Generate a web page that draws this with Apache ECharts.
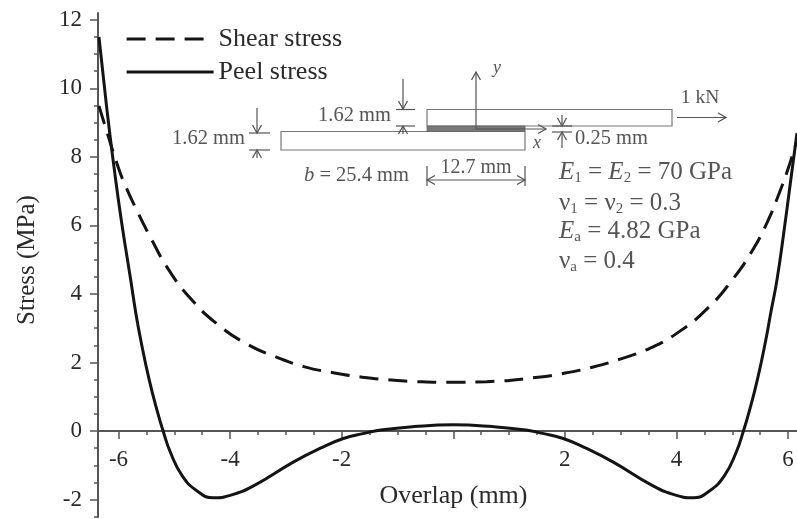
<!DOCTYPE html>
<html>
<head>
<meta charset="utf-8">
<style>html,body{margin:0;padding:0;background:#fff}#c{width:797px;height:519px}</style>
<script src="https://cdn.jsdelivr.net/npm/echarts@6/dist/echarts.min.js"></script>
</head>
<body>
<div id="c"></div>
<script>
const xMajorTicks = [-6,-4,-2,0,2,4,6];
const xLabelTicks = [-6,-4,-2,2,4,6];
const xMinorTicks = [-6,-5.5,-5,-4.5,-4,-3.5,-3,-2.5,-2,-1.5,-1,-0.5,0,0.5,1,1.5,2,2.5,3,3.5,4,4.5,5,5.5,6];
const yMajorTicks = [-2,0,2,4,6,8,10,12];
const yMinorTicks = [-2.5,-2,-1.5,-1,-0.5,0,0.5,1,1.5,2,2.5,3,3.5,4,4.5,5,5.5,6,6.5,7,7.5,8,8.5,9,9.5,10,10.5,11,11.5,12];
const shearX = [-6.35,-6.23,-6.02,-5.9,-5.66,-5.41,-5.11,-4.72,-4.23,-3.69,-3.19,-2.68,-2.15,-1.63,-1.13,-0.63,-0.09,0.6,1.47,1.97,2.51,2.99,3.53,4.05,4.57,5.0,5.35,5.62,5.82,6.03,6.16];
const shearY = [9.49,8.85,7.77,7.25,6.4,5.6,4.73,3.89,3.12,2.53,2.17,1.88,1.7,1.57,1.49,1.44,1.42,1.44,1.56,1.68,1.87,2.1,2.42,2.9,3.6,4.41,5.24,6.07,6.85,7.8,8.5];
const peelX = [-6.35,-6.2,-6.08,-5.95,-5.78,-5.69,-5.6,-5.45,-5.3,-5.2,-5.07,-4.86,-4.59,-4.3,-4.0,-3.58,-2.86,-2.38,-1.97,-1.6,-1.3,-0.7,0,0.7,1.3,1.6,1.97,2.38,2.86,3.58,4.0,4.3,4.59,4.86,5.07,5.2,5.3,5.45,5.6,5.69,5.8,5.92,6.03,6.16];
const peelY = [11.5,9.28,7.7,6.16,4.4,3.45,2.65,1.5,0.55,0,-0.62,-1.3,-1.75,-1.95,-1.88,-1.6,-0.9,-0.5,-0.22,-0.07,0.03,0.13,0.18,0.13,0.03,-0.07,-0.22,-0.5,-0.9,-1.6,-1.88,-1.95,-1.75,-1.3,-0.62,0,0.55,1.5,2.65,3.45,4.4,5.75,7.1,8.7];

const serif = '"Liberation Serif"';
const ink = '#2a2a2a', grey = '#555', axisCol = '#555';

function seg(x1,y1,x2,y2,w,c){return {type:'line',silent:true,shape:{x1,y1,x2,y2},style:{stroke:c||grey,lineWidth:w||1.2}};}
function head(x,y,dx,dy){
  const s=8,t=4.5,nx=-dy,ny=dx;
  return {type:'polyline',silent:true,shape:{points:[[x-dx*s+nx*t,y-dy*s+ny*t],[x,y],[x-dx*s-nx*t,y-dy*s-ny*t]]},style:{stroke:grey,lineWidth:1.3,fill:null}};
}
function box(x,y,w,h,fill){return {type:'rect',silent:true,shape:{x,y,width:w,height:h},style:{stroke:'#777',lineWidth:1.2,fill:fill||'#fff'}};}
const richBase = {
  n:{fontFamily:serif,fontSize:25,fill:grey},
  i:{fontFamily:serif,fontSize:25,fontStyle:'italic',fill:grey},
  s:{fontFamily:serif,fontSize:15,fill:grey,verticalAlign:'bottom',padding:[12,0,0,0]},
  n20:{fontFamily:serif,fontSize:20.5,fill:grey},
  i20:{fontFamily:serif,fontSize:20.5,fontStyle:'italic',fill:grey}
};
function label(x,y,t,size,align){return {type:'text',silent:true,x,y,style:{text:t,fontFamily:serif,fontSize:size||20.5,fill:grey,align:align||'left',verticalAlign:'middle'}};}
function italic(x,y,t,size){return {type:'text',silent:true,x,y,style:{text:t,fontFamily:serif,fontSize:size||18,fontStyle:'italic',fill:grey,align:'center',verticalAlign:'middle'}};}
function rich(x,y,t){return {type:'text',silent:true,x,y,style:{text:t,rich:richBase,verticalAlign:'middle',align:'left'}};}

const graphics = [
  box(427,109.5,245,16.5),
  box(281,131.5,244,18.5),
  {type:'rect',silent:true,shape:{x:427,y:126,width:98,height:5.5},style:{fill:'#777',stroke:'#666',lineWidth:0.8}},
  seg(476,129,476,73), head(476,72,0,-1), italic(497,68,'y'),
  seg(476,129,545,129), head(546,129,1,0), italic(537,143,'x'),
  seg(677,117.5,725,117.5), head(726,117.5,1,0), label(700,98,'1 kN',19.5,'center'),
  seg(403,79,403,109), head(403,109,0,1), seg(396,109.5,415,109.5), seg(396,126,415,126),
  seg(403,126,403,134), head(403,126,0,-1), label(318,115.5,'1.62 mm'),
  seg(257,108,257,133), head(257,133,0,1), seg(249,133,270,133), seg(249,150,270,150),
  seg(257,150,257,158), head(257,150,0,-1), label(172,139,'1.62 mm'),
  seg(562,115,562,126), head(562,126,0,1), seg(552,126,572,126), seg(552,132,572,132),
  seg(562,132,562,148), head(562,132,0,-1), label(575,139,'0.25 mm'),
  rich(304,176,'{i20|b}{n20| = 25.4 mm}'),
  seg(427,166,427,186), seg(525,166,525,186), seg(427,180,525,180),
  head(427,180,-1,0), head(525,180,1,0), label(476,168,'12.7 mm',20,'center'),
  rich(559,172,'{i|E}{s|1}{n| = }{i|E}{s|2}{n| = 70 GPa}'),
  rich(559,203,'{n|ν}{s|1}{n| = ν}{s|2}{n| = 0.3}'),
  rich(559,231,'{i|E}{s|a}{n| = 4.82 GPa}'),
  rich(559,261,'{n|ν}{s|a}{n| = 0.4}')
];

const xMin=-6.367,xMax=6.16,yMin=-2.51,yMax=12.2;
const axisStroke={color:axisCol,width:2};
const option={
  animation:false,
  backgroundColor:'#fff',
  grid:{left:98,right:0,top:13,bottom:2,outerBoundsMode:'none'},
  legend:{
    orient:'vertical',left:120,top:21,itemWidth:87,itemHeight:14,itemGap:7,
    itemStyle:{opacity:0},
    lineStyle:{width:3.2},
    textStyle:{fontFamily:serif,fontSize:26,color:ink},
    data:['Shear stress','Peel stress']
  },
  xAxis:[
    {type:'value',min:xMin,max:xMax,splitLine:{show:false},
     axisLine:{show:true,onZero:true,lineStyle:axisStroke},
     axisTick:{show:true,length:4,customValues:xMinorTicks,lineStyle:{color:axisCol,width:1.5}},
     axisLabel:{show:false}},
    {type:'value',min:xMin,max:xMax,position:'bottom',offset:-86,splitLine:{show:false},
     axisLine:{show:false,onZero:false},
     axisTick:{show:true,length:8,customValues:xMajorTicks,lineStyle:{color:axisCol,width:1.5}},
     axisLabel:{show:true,customValues:xLabelTicks,margin:17,fontFamily:serif,fontSize:23,color:ink,hideOverlap:false,showMinLabel:true,showMaxLabel:true},
     name:'Overlap (mm)',nameLocation:'middle',nameGap:52,
     nameTextStyle:{fontFamily:serif,fontSize:26,color:ink,padding:[0,0,0,12]}}
  ],
  yAxis:[
    {type:'value',min:yMin,max:yMax,position:'left',splitLine:{show:false},
     axisLine:{show:true,onZero:false,lineStyle:axisStroke},
     axisTick:{show:true,length:4,customValues:yMinorTicks,lineStyle:{color:axisCol,width:1.5}},
     axisLabel:{show:false}},
    {type:'value',min:yMin,max:yMax,position:'left',splitLine:{show:false},
     axisLine:{show:false,onZero:false},
     axisTick:{show:true,length:8,customValues:yMajorTicks,lineStyle:{color:axisCol,width:1.5}},
     axisLabel:{show:true,customValues:yMajorTicks,margin:16,fontFamily:serif,fontSize:23,color:ink},
     name:'Stress (MPa)',nameLocation:'middle',nameGap:58,
     nameTextStyle:{fontFamily:serif,fontSize:25,color:ink,padding:[0,0,0,10]}}
  ],
  series:[
    {name:'Shear stress',type:'line',xAxisIndex:0,yAxisIndex:0,showSymbol:false,symbol:'none',smooth:0.5,
     data:shearX.map((x,i)=>[x,shearY[i]]),lineStyle:{color:'#141414',width:3,type:[19,10]},itemStyle:{color:'#141414'}},
    {name:'Peel stress',type:'line',xAxisIndex:0,yAxisIndex:0,showSymbol:false,symbol:'none',smooth:0.5,
     data:peelX.map((x,i)=>[x,peelY[i]]),lineStyle:{color:'#141414',width:3,type:'solid'},itemStyle:{color:'#141414'}}
  ],
  graphic:graphics
};
const chart=echarts.init(document.getElementById('c'),null,{renderer:'canvas'});
chart.setOption(option);
</script>
</body>
</html>
